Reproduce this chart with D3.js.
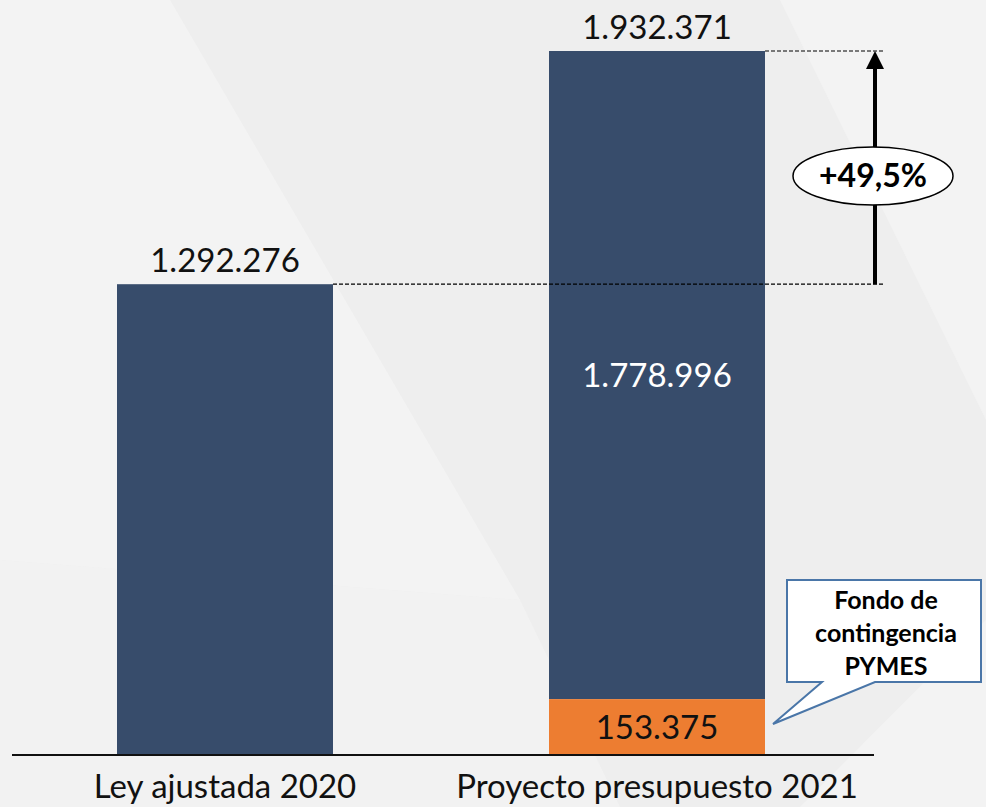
<!DOCTYPE html>
<html><head><meta charset="utf-8">
<script src="https://cdn.jsdelivr.net/npm/d3@7"></script>
<style>html,body{margin:0;padding:0;background:#eeeeee;}svg{display:block;}</style>
</head><body>
<script>
const categories = ["Ley ajustada 2020", "Proyecto presupuesto 2021"];
const baseValues = [1292276, 1778996];
const pymesValues = [0, 153375];
const totals = [1292276, 1932371];
const changeLabel = "+49,5%";
const calloutLines = ["Fondo de", "contingencia", "PYMES"];
const fmt = v => d3.format(",")(v).replace(/,/g, ".");

const W = 986, H = 807;
const svg = d3.select("body").append("svg").attr("width", W).attr("height", H);

// background
svg.append("rect").attr("width", W).attr("height", H).attr("fill", "#eeeeee");
const bg = [
  [[0,0],[170,0],[520,600],[0,560]],
  [[0,560],[520,600],[620,807],[0,807]],
  [[780,0],[986,0],[986,420]],
  [[800,807],[986,620],[986,807]]
];
svg.selectAll("polygon.bg").data(bg).join("polygon").attr("class","bg")
  .attr("points", d => d.map(p => p.join(",")).join(" "))
  .attr("fill", (d,i) => i===1 ? "#f2f2f2" : "#f3f3f3");

const font = "Lato, 'Open Sans', sans-serif";
const baseY = 755;
const y = d3.scaleLinear().domain([0, 1932371]).range([baseY, 51]);
const x = d3.scaleBand().domain(categories).range([9, 873]).paddingInner(0.5).paddingOuter(0.25);

// bars
svg.selectAll("rect.base").data(categories).join("rect").attr("class","base")
  .attr("x", d => x(d)).attr("width", x.bandwidth())
  .attr("y", (d,i) => y(baseValues[i] + pymesValues[i]))
  .attr("height", (d,i) => y(pymesValues[i]) - y(baseValues[i] + pymesValues[i]))
  .attr("fill", "#374c6b");
svg.selectAll("rect.pymes").data(categories).join("rect").attr("class","pymes")
  .attr("x", d => x(d)).attr("width", x.bandwidth())
  .attr("y", (d,i) => y(pymesValues[i]))
  .attr("height", (d,i) => y(0) - y(pymesValues[i]))
  .attr("fill", "#ed7d31").attr("display", (d,i) => pymesValues[i] > 0 ? null : "none");

// total labels
svg.selectAll("text.tot").data(categories).join("text").attr("class","tot")
  .attr("x", d => x(d) + x.bandwidth()/2)
  .attr("y", (d,i) => y(totals[i]) - 12)
  .attr("text-anchor","middle").attr("font-family", font).attr("font-size", 33)
  .attr("fill","#111").text((d,i) => fmt(totals[i]));

// inner labels for 2021
const c2 = categories[1];
const cx2 = x(c2) + x.bandwidth()/2;
svg.append("text").attr("x", cx2).attr("y", y(pymesValues[1] + baseValues[1]/2) + 12)
  .attr("text-anchor","middle").attr("font-family", font).attr("font-size", 33)
  .attr("fill","#ffffff").text(fmt(baseValues[1]));
svg.append("text").attr("x", cx2).attr("y", y(pymesValues[1]/2) + 12)
  .attr("text-anchor","middle").attr("font-family", font).attr("font-size", 33)
  .attr("fill","#111").text(fmt(pymesValues[1]));

// axis
const axisG = svg.append("g").attr("transform", `translate(0,${baseY})`)
  .call(d3.axisBottom(x).tickSize(0).tickPadding(20));
axisG.select(".domain").attr("d", "M12,0H874").attr("stroke", "#111").attr("stroke-width", 2);
axisG.selectAll("text").attr("font-family", font).attr("font-size", 33).attr("fill", "#111")
  .attr("dy", "0.71em");

// dashed reference lines
const ax = 875;
[[0, totals[0]], [1, totals[1]]].forEach(([i, v]) => {
  svg.append("line").attr("x1", x(categories[i]) + x.bandwidth()).attr("x2", 885)
    .attr("y1", y(v)).attr("y2", y(v))
    .attr("stroke", "#000").attr("stroke-width", 1.2).attr("stroke-dasharray", "4,2");
});

// arrow
svg.append("line").attr("x1", ax).attr("x2", ax).attr("y1", y(totals[0])).attr("y2", y(totals[1]) + 17)
  .attr("stroke","#000").attr("stroke-width", 4);
svg.append("path").attr("d", `M${ax},${y(totals[1])} L${ax-9},${y(totals[1])+18} L${ax+9},${y(totals[1])+18} Z`).attr("fill","#000");

svg.append("ellipse").attr("cx", 873).attr("cy", 176).attr("rx", 80).attr("ry", 29)
  .attr("fill","#fff").attr("stroke","#000").attr("stroke-width", 1.5);
svg.append("text").attr("x", 873).attr("y", 187).attr("text-anchor","middle")
  .attr("font-family", font).attr("font-weight", "bold").attr("font-size", 32)
  .attr("fill","#000").text(changeLabel);

// callout
svg.append("path")
  .attr("d", "M787,580 H981 V682 H875 L773,724 L822,682 H787 Z")
  .attr("fill","#fff").attr("stroke","#4a76a8").attr("stroke-width", 2).attr("stroke-linejoin","miter");
svg.selectAll("text.co").data(calloutLines).join("text").attr("class","co")
  .attr("x", 886).attr("y", (d,i) => 609 + i*33)
  .attr("text-anchor","middle").attr("font-family", font).attr("font-weight","bold")
  .attr("font-size", 25).attr("fill","#000").text(d => d);
</script>
</body></html>
